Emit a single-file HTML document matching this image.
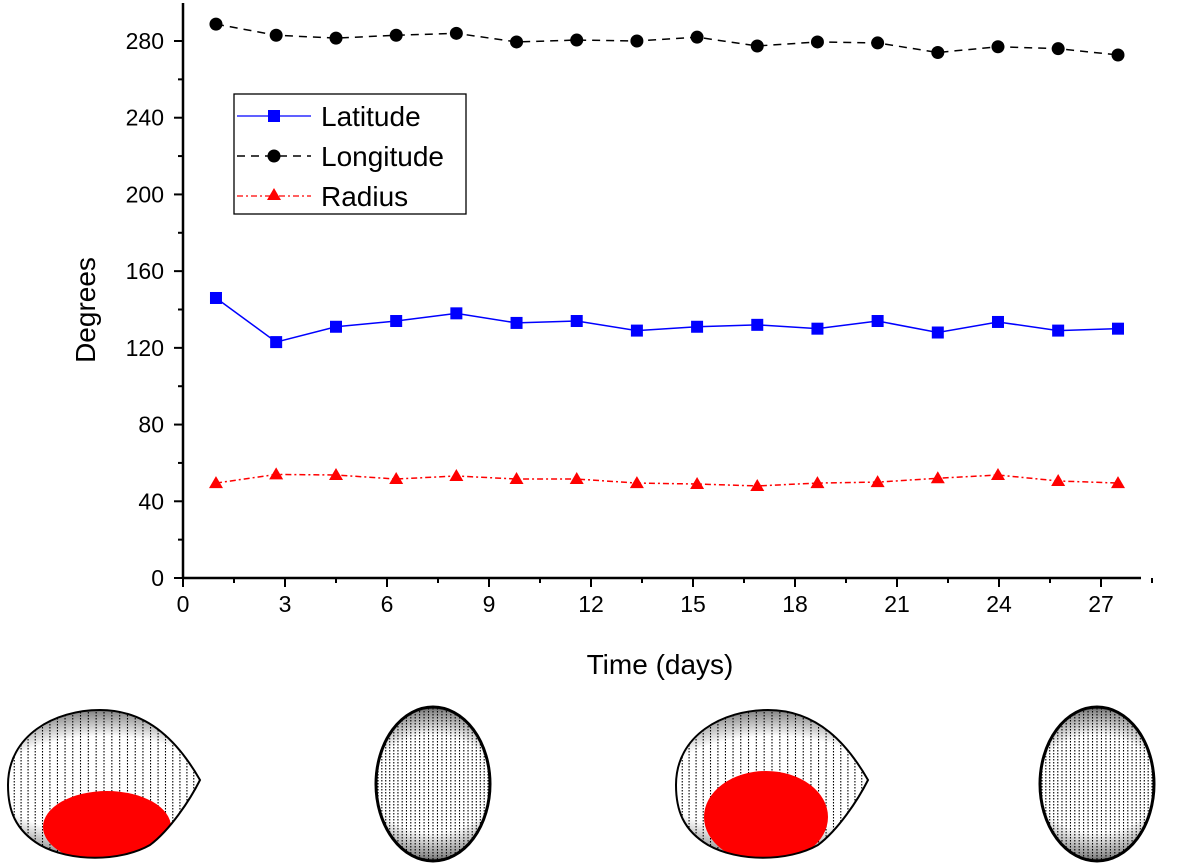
<!DOCTYPE html>
<html><head><meta charset="utf-8"><style>
html,body{margin:0;padding:0;background:#fff;}
svg{display:block;font-family:"Liberation Sans",Arial,sans-serif;}
</style></head><body>
<svg id="chart" width="1200" height="865" viewBox="0 0 1200 865" xmlns="http://www.w3.org/2000/svg">
<defs>
<clipPath id="c1"><path d="M8,785 C8,735 55,710 100,710 C150,710 180,745 200,780 C190,800 170,830 150,845 C120,862 70,862 40,845 C15,830 8,810 8,785Z"/></clipPath>
<clipPath id="c3"><path d="M676,785 C676,735 723,710 768,710 C818,710 848,745 868,780 C858,800 838,830 818,845 C788,862 738,862 708,845 C683,830 676,810 676,785Z"/></clipPath>
<clipPath id="c2"><ellipse cx="433" cy="784" rx="57" ry="77"/></clipPath>
<clipPath id="c4"><ellipse cx="1097" cy="784" rx="57" ry="77"/></clipPath>
<radialGradient id="rim" cx="0.5" cy="0.5" r="0.5">
<stop offset="0.6" stop-color="#000" stop-opacity="0"/>
<stop offset="0.9" stop-color="#000" stop-opacity="0.45"/>
<stop offset="1" stop-color="#000" stop-opacity="0.9"/>
</radialGradient>
</defs>
<g id="axes"></g>
<g id="series"></g>
<g id="legend">
<rect x="234" y="94" width="232" height="120" fill="#fff" stroke="#000" stroke-width="1.3"/>
<line x1="237" y1="116" x2="311" y2="116" stroke="#0000ff" stroke-width="1.3"/>
<rect x="268" y="110" width="12" height="12" fill="#0000ff"/>
<text x="321" y="126" font-size="28">Latitude</text>
<line x1="237" y1="156" x2="311" y2="156" stroke="#000" stroke-width="1.5" stroke-dasharray="8,6"/>
<circle cx="274" cy="156" r="6.5" fill="#000"/>
<text x="321" y="166" font-size="28">Longitude</text>
<line x1="237" y1="196" x2="311" y2="196" stroke="#ff0000" stroke-width="1.3" stroke-dasharray="6,3,2,3"/>
<path d="M274,188 L281,200 L267,200Z" fill="#ff0000"/>
<text x="321" y="206" font-size="28">Radius</text>
</g>
<g id="spheres"></g>
</svg>
<script>
const xVals=[0.97,2.74,4.5,6.27,8.04,9.81,11.58,13.35,15.12,16.89,18.66,20.43,22.2,23.97,25.74,27.5];
const longitude=[288.8,283,281.5,283,284,279.5,280.5,280,282,277.4,279.5,279,274,277,276,272.7];
const latitude=[146,123,131,134,138,133,134,129,131,132,130,134,128,133.5,129,130];
const radius=[49.5,54,53.7,51.6,53.2,51.6,51.6,49.5,49,48,49.5,50,52,53.7,50.6,49.5];
const xTicks=[0,3,6,9,12,15,18,21,24,27];
const yTicks=[0,40,80,120,160,200,240,280];
const NS="http://www.w3.org/2000/svg";
const X=v=>183+v*34, Y=v=>578-v*(537/280);
function mk(t,a,p){const e=document.createElementNS(NS,t);for(const k in a)e.setAttribute(k,a[k]);(p||document.getElementById('series')).appendChild(e);return e;}
const ax=document.getElementById('axes');
let l=mk('line',{x1:183,y1:3,x2:183,y2:578,stroke:'#000','stroke-width':2.5},ax);


l=mk('line',{x1:182,y1:578,x2:1141,y2:578,stroke:'#000','stroke-width':2.5},ax);


for(let v=0;v<=290;v+=20){const major=v%40===0;mk('line',{x1:183-(major?9:5),y1:Y(v),x2:183,y2:Y(v),stroke:'#000','stroke-width':2},ax);}
yTicks.forEach(v=>{const t=mk('text',{x:164,y:Y(v)+8,'font-size':23,'text-anchor':'end'},ax);t.textContent=v;

});
for(let v=0;v<=28.5;v+=1.5){const major=Math.abs(v%3)<0.01;mk('line',{x1:X(v),y1:578,x2:X(v),y2:578+(major?9:5),stroke:'#000','stroke-width':2},ax);}
xTicks.forEach(v=>{const t=mk('text',{x:X(v),y:612,'font-size':23,'text-anchor':'middle'},ax);t.textContent=v;

});
let t=mk('text',{x:660,y:674,'font-size':28,'text-anchor':'middle'},ax);t.textContent='Time (days)';


t=mk('text',{x:95,y:310,'font-size':28,'text-anchor':'middle',transform:'rotate(-90 95 310)'},ax);t.textContent='Degrees';


function series(vals,color,dash,marker,name){
 const pts=vals.map((v,i)=>X(xVals[i])+','+Y(v)).join(' ');
 const p=mk('polyline',{points:pts,fill:'none',stroke:color,'stroke-width':1.5,'stroke-dasharray':dash});
 
 
 vals.forEach((v,i)=>{const x=X(xVals[i]),y=Y(v);let m;
  if(marker==='sq')m=mk('rect',{x:x-6,y:y-6,width:12,height:12,fill:color});
  else if(marker==='c')m=mk('circle',{cx:x,cy:y,r:6.5,fill:color});
  else m=mk('path',{d:`M${x},${y-7} L${x+7},${y+5} L${x-7},${y+5}Z`,fill:color});
  
  });
}
series(latitude,'#0000ff','none','sq','latitude');
series(longitude,'#000','8,6','c','longitude');
series(radius,'#ff0000','6,3,2,3','t','radius');
// spheres
const sg=document.getElementById('spheres');
function sphere(cx,cy,rx,ry,clip,red){
 const g=mk('g',{'clip-path':'url(#'+clip+')'},sg);
 
 
 mk('rect',{x:cx-110,y:cy-90,width:220,height:180,fill:'#fff'},g);
 for(let k=0;k<=70;k++){const a=k/70*Math.PI;const off=Math.cos(a)*rx*1.75;
  mk('line',{x1:cx+off,y1:cy-ry-5,x2:cx+off,y2:cy+ry+5,stroke:'#000','stroke-width':1.1,'stroke-dasharray':'1.5,1.5'},g);}
 mk('rect',{x:cx-rx*1.8,y:cy-ry*1.05,width:rx*3.6,height:ry*2.1,fill:'url(#rim)'},g);
 mk('rect',{x:cx-110,y:cy-90,width:220,height:180,fill:'none',stroke:'#000','stroke-width':6},g);
 if(red)mk('ellipse',{cx:red[0],cy:red[1],rx:red[2],ry:red[3],fill:'#ff0000'},g);
}
sphere(104,785,100,77,'c1',[107,827,64,36]);
sphere(433,784,57,77,'c2',null);
sphere(772,785,100,77,'c3',[766,817,62,46]);
sphere(1097,784,57,77,'c4',null);
[[ 'c1',"M8,785 C8,735 55,710 100,710 C150,710 180,745 200,780 C190,800 170,830 150,845 C120,862 70,862 40,845 C15,830 8,810 8,785Z"],
 ['c3',"M676,785 C676,735 723,710 768,710 C818,710 848,745 868,780 C858,800 838,830 818,845 C788,862 738,862 708,845 C683,830 676,810 676,785Z"]].forEach(s=>mk('path',{d:s[1],fill:'none',stroke:'#000','stroke-width':2},sg));
mk('ellipse',{cx:433,cy:784,rx:57,ry:77,fill:'none',stroke:'#000','stroke-width':3},sg);
mk('ellipse',{cx:1097,cy:784,rx:57,ry:77,fill:'none',stroke:'#000','stroke-width':3},sg);
</script>
</body></html>
